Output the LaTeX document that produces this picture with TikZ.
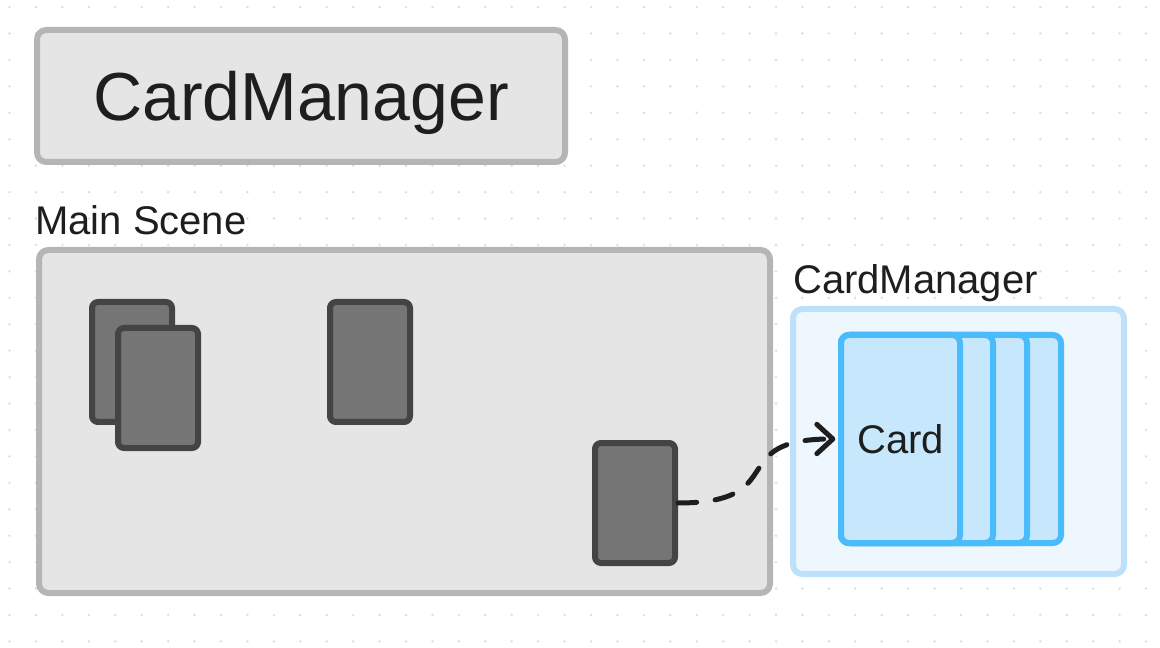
\documentclass[tikz,border=0pt]{standalone}
\usepackage{fontspec}
\setmainfont{Liberation Sans}
\usetikzlibrary{arrows.meta}
\definecolor{boxgray}{HTML}{E5E5E5}
\definecolor{edgegray}{HTML}{B5B5B5}
\definecolor{cardfill}{HTML}{757575}
\definecolor{cardedge}{HTML}{444444}
\definecolor{panelfill}{HTML}{EEF6FE}
\definecolor{paneledge}{HTML}{BDE0FB}
\definecolor{stackfill}{HTML}{C6E7FC}
\definecolor{stackedge}{HTML}{4ABCFB}
\definecolor{ink}{HTML}{1E1E1E}
\definecolor{dotgray}{HTML}{DDDDDD}
\begin{document}
\begin{tikzpicture}[x=0.75pt,y=-0.75pt,line join=round,line cap=round,
	font=\fontsize{30}{36}\selectfont,text=ink,
	greybox/.style={draw=edgegray,fill=boxgray,line width=4.5pt,rounded corners=7pt,inner sep=0pt},
	gamecard/.style={draw=cardedge,fill=cardfill,line width=4.5pt,rounded corners=4.5pt,
		minimum width=60pt,minimum height=90pt,inner sep=0pt},
	stackcard/.style={draw=stackedge,fill=stackfill,line width=4.5pt,rounded corners=6pt,
		minimum height=156pt,inner sep=0pt,text depth=0pt},
	caption/.style={anchor=base west,inner sep=0pt},
	flow/.style={draw=ink,line width=3.75pt,dash pattern=on 14pt off 14pt,
		-{Straight Barb[length=12pt,width=22pt,line cap=round,line join=round]}}]
	\useasboundingbox (0,0) rectangle (1160,648);
	\def\gap{26.43}
	% dot grid
	\foreach \i in {0,...,43}
		\foreach \j in {0,...,24}
			\fill[dotgray] (9.55+\gap*\i,7.1+\gap*\j) circle (1pt);
	% title box
	\node[greybox,minimum width=396pt,minimum height=99pt,text depth=0pt,
		font=\fontsize{51}{60}\selectfont] (title) at (301,96) {CardManager};
	% main scene
	\node[caption] (scenelbl) at (35,235) {Main Scene};
	\node[greybox,minimum width=548.25pt,minimum height=257.25pt] (scene) at (404.5,421.5) {};
	\node[gamecard] (c1) at (132,362) {};
	\node[gamecard] (c2) at (158,388) {};
	\node[gamecard] (c3) at (370,362) {};
	\node[gamecard] (c4) at (635,503) {};
	% card manager panel
	\node[caption] (panellbl) at (793,294) {CardManager};
	\node[draw=paneledge,fill=panelfill,line width=4.5pt,rounded corners=7pt,
		minimum width=248.25pt,minimum height=198.75pt] (panel) at (958.5,441.5) {};
	\node[stackcard,minimum width=165pt] (back3) at (951,439) {};
	\node[stackcard,minimum width=139.5pt] (back2) at (934,439) {};
	\node[stackcard,minimum width=114pt] (back1) at (917,439) {};
	\node[stackcard,minimum width=89.25pt] (card) at (900.5,439) {Card};
	% move
	\draw[flow,shorten >=2pt] (c4.east) to[out=0,in=180,looseness=1.7] (card.west);
\end{tikzpicture}
\end{document}
